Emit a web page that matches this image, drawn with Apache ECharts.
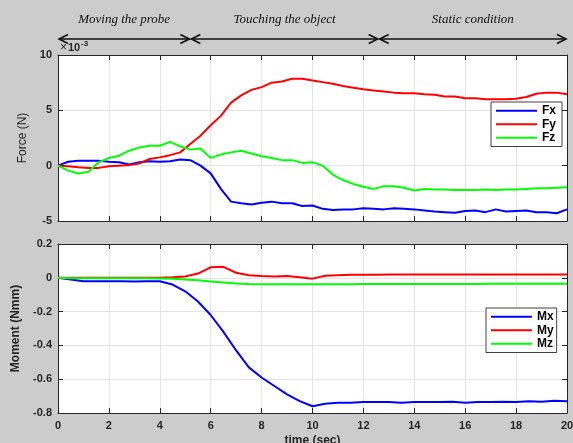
<!DOCTYPE html>
<html><head><meta charset="utf-8">
<script src="https://cdn.jsdelivr.net/npm/echarts@6/dist/echarts.min.js"></script>
<style>html,body{margin:0;padding:0;background:#cccccc}#c{width:573px;height:443px}</style>
</head><body><div id="c"></div>
<script>
// ---- data ----
const forceTime = [0,0.4,0.8,1.2,1.6,2.0,2.4,2.8,3.2,3.6,4.0,4.4,4.8,5.2,5.6,6.0,6.4,6.8,7.2,7.6,8.0,8.4,8.8,9.2,9.6,10.0,10.4,10.8,11.2,11.6,12.0,12.4,12.8,13.2,13.6,14.0,14.4,14.8,15.2,15.6,16.0,16.4,16.8,17.2,17.6,18.0,18.4,18.8,19.2,19.6,20.0];
const Fx = [0,0.35,0.45,0.45,0.45,0.35,0.3,0.1,0.3,0.4,0.35,0.4,0.55,0.5,0.0,-0.7,-2.1,-3.25,-3.4,-3.5,-3.35,-3.25,-3.4,-3.4,-3.65,-3.6,-3.9,-4.0,-3.95,-3.95,-3.85,-3.9,-3.95,-3.85,-3.9,-3.95,-4.05,-4.15,-4.2,-4.25,-4.1,-4.05,-4.2,-3.95,-4.15,-4.1,-4.05,-4.2,-4.2,-4.3,-3.95];
const Fy = [0,-0.05,-0.15,-0.2,-0.2,-0.05,0.0,0.05,0.2,0.6,0.75,0.95,1.2,1.95,2.7,3.65,4.5,5.7,6.35,6.85,7.1,7.5,7.6,7.85,7.85,7.7,7.55,7.4,7.2,7.05,6.9,6.8,6.7,6.6,6.55,6.55,6.45,6.4,6.25,6.25,6.1,6.1,6.0,6.0,6.0,6.05,6.2,6.5,6.6,6.6,6.45];
const Fz = [0,-0.45,-0.7,-0.55,0.3,0.7,0.9,1.35,1.65,1.8,1.8,2.15,1.75,1.45,1.55,0.7,1.0,1.2,1.35,1.1,0.85,0.7,0.5,0.5,0.25,0.3,0.0,-0.8,-1.3,-1.65,-1.9,-2.1,-1.85,-1.85,-2.0,-2.25,-2.1,-2.15,-2.15,-2.2,-2.2,-2.2,-2.15,-2.2,-2.15,-2.15,-2.1,-2.05,-2.05,-2.0,-1.95];

const momentTime = [0,0.5,1,1.5,2,2.5,3,3.5,4,4.5,5,5.5,6,6.5,7,7.5,8,8.5,9,9.5,10,10.5,11,11.5,12,12.5,13,13.5,14,14.5,15,15.5,16,16.5,17,17.5,18,18.5,19,19.5,20];
const Mx = [0,-0.01,-0.02,-0.02,-0.02,-0.02,-0.022,-0.02,-0.02,-0.04,-0.08,-0.14,-0.22,-0.32,-0.43,-0.53,-0.59,-0.64,-0.69,-0.73,-0.76,-0.745,-0.74,-0.74,-0.735,-0.735,-0.735,-0.74,-0.735,-0.735,-0.735,-0.733,-0.74,-0.735,-0.735,-0.733,-0.735,-0.73,-0.733,-0.728,-0.73];
const My = [0,0,0,0,0,0,0,0,0,0.003,0.008,0.025,0.062,0.065,0.03,0.015,0.01,0.008,0.01,0.003,-0.005,0.012,0.015,0.018,0.018,0.018,0.02,0.019,0.02,0.02,0.019,0.02,0.02,0.02,0.02,0.019,0.02,0.02,0.02,0.02,0.02];
const Mz = [0,-0.002,-0.002,-0.002,-0.002,-0.002,-0.002,-0.003,-0.004,-0.006,-0.01,-0.015,-0.022,-0.028,-0.034,-0.037,-0.038,-0.038,-0.038,-0.038,-0.038,-0.038,-0.038,-0.038,-0.037,-0.037,-0.037,-0.037,-0.036,-0.036,-0.036,-0.036,-0.036,-0.036,-0.035,-0.035,-0.035,-0.035,-0.035,-0.035,-0.035];

const timeTicks = [0,20,2];          // min, max, interval
const forceTicks = [-5,10,5];
const momentTicks = [-0.8,0.2,0.2];
const phaseBounds = [0,5.2,12.6,20];
const phaseLabels = ['Moving the probe','Touching the object','Static condition'];
const forceScaleBase = '10';
const forceScaleExp = '-3';

// ---- chart ----
const FONT = '"Liberation Sans", Arial, sans-serif';
const C = '#262626';
const chart = echarts.init(document.getElementById('c'));

function pairs(t, v){ return t.map((x,i)=>[x, v[i]]); }

function xAxis(grid, pos, showLabel, name){
  return {
    type:'value', gridIndex:grid, position:pos,
    min:timeTicks[0], max:timeTicks[1], interval:timeTicks[2],
    axisLine:{show:true, onZero:false, lineStyle:{color:C,width:1}},
    axisTick:{show:true, inside:true, length:5, lineStyle:{color:C}},
    axisLabel:{show:showLabel, color:C, fontFamily:FONT, fontWeight:'bold', fontSize:11, margin:7},
    splitLine:{show:pos==='bottom', lineStyle:{color:'#e3e3e3',width:1}},
    name:name||'', nameLocation:'middle', nameGap:22,
    nameTextStyle:{color:C, fontFamily:FONT, fontWeight:'bold', fontSize:12, verticalAlign:'top'}
  };
}
function yAxis(grid, pos, ticks, showLabel, name, gap, bold, fmt){
  return {
    type:'value', gridIndex:grid, position:pos,
    min:ticks[0], max:ticks[1], interval:ticks[2],
    axisLine:{show:true, onZero:false, lineStyle:{color:C,width:1}},
    axisTick:{show:true, inside:true, length:5, lineStyle:{color:C}},
    axisLabel:{show:showLabel, color:C, fontFamily:FONT, fontWeight:'bold', fontSize:11, margin:6, formatter:fmt},
    splitLine:{show:pos==='left', lineStyle:{color:'#e3e3e3',width:1}},
    name:name||'', nameLocation:'middle', nameGap:gap||0,
    nameTextStyle:{color:C, fontFamily:FONT, fontWeight:bold?'bold':'normal', fontSize:12}
  };
}
const mfmt = v => { const s = v.toFixed(1); return (s==='0.0'||s==='-0.0') ? '0' : s; };
const ffmt = v => String(Math.round(v));

function line(name, x, y, data, color){
  return {name, type:'line', xAxisIndex:x, yAxisIndex:y, data, showSymbol:false, symbol:'none',
    lineStyle:{color, width:2}, itemStyle:{color}, animation:false};
}

const legendCommon = {
  orient:'vertical', icon:'rect', itemWidth:41, itemHeight:2, itemGap:0,
  backgroundColor:'#ffffff', borderColor:'#404040', borderWidth:1, borderRadius:0,
  padding:[2,6,2,5], textStyle:{color:'#000', fontFamily:FONT, fontWeight:'bold', fontSize:12, lineHeight:13.5},
  selectedMode:false
};

chart.setOption({
  backgroundColor:'#cccccc',
  animation:false,
  grid:[
    {left:58, top:55, width:509, height:166, show:true, backgroundColor:'#ffffff', borderWidth:0, containLabel:false, outerBoundsMode:'none'},
    {left:58, top:244, width:509, height:169, show:true, backgroundColor:'#ffffff', borderWidth:0, containLabel:false, outerBoundsMode:'none'}
  ],
  xAxis:[ xAxis(0,'bottom',false), xAxis(0,'top',false), xAxis(1,'bottom',true,'time (sec)'), xAxis(1,'top',false) ],
  yAxis:[ yAxis(0,'left',forceTicks,true,'Force (N)',24,false,ffmt), yAxis(0,'right',forceTicks,false),
          yAxis(1,'left',momentTicks,true,'Moment (Nmm)',30,true,mfmt), yAxis(1,'right',momentTicks,false) ],
  legend:[
    Object.assign({}, legendCommon, {data:['Fx','Fy','Fz'], left:491, top:102}),
    Object.assign({}, legendCommon, {data:['Mx','My','Mz'], left:486, top:308, padding:[2,3,2,5]})
  ],
  series:[
    line('Fx',0,0,pairs(forceTime,Fx),'#0000ff'),
    line('Fy',0,0,pairs(forceTime,Fy),'#ff0000'),
    line('Fz',0,0,pairs(forceTime,Fz),'#00ff00'),
    line('Mx',2,2,pairs(momentTime,Mx),'#0000ff'),
    line('My',2,2,pairs(momentTime,My),'#ff0000'),
    line('Mz',2,2,pairs(momentTime,Mz),'#00ff00')
  ]
});

// annotations: phase arrows above top plot
const px = t => chart.convertToPixel({xAxisIndex:0}, t);
const arrowY = 39, textY = 20, head = 9, hh = 4.5;
const g = [];
for (let i=0;i<phaseLabels.length;i++){
  const x1 = px(phaseBounds[i]) + 1, x2 = px(phaseBounds[i+1]) - 1;
  const st = {stroke:'#111', lineWidth:1.6, fill:null};
  g.push({type:'line', shape:{x1, y1:arrowY, x2, y2:arrowY}, style:st, silent:true});
  g.push({type:'polyline', shape:{points:[[x1+head,arrowY-hh],[x1,arrowY],[x1+head,arrowY+hh]]}, style:st, silent:true});
  g.push({type:'polyline', shape:{points:[[x2-head,arrowY-hh],[x2,arrowY],[x2-head,arrowY+hh]]}, style:st, silent:true});
  g.push({type:'text', x:(x1+x2)/2, y:textY, style:{text:phaseLabels[i], fill:'#111', font:'italic 13px "Liberation Serif", "Times New Roman", serif', align:'center', verticalAlign:'middle'}, silent:true});
}
const x0 = px(0) + 2;
g.push({type:'text', x:x0, y:48, style:{text:'×', fill:C, font:'12px '+FONT, verticalAlign:'middle'}, silent:true});
g.push({type:'text', x:x0+8, y:48, style:{text:forceScaleBase, fill:C, font:'bold 11px '+FONT, verticalAlign:'middle'}, silent:true});
g.push({type:'text', x:x0+21, y:44, style:{text:forceScaleExp, fill:C, font:'bold 8px '+FONT, verticalAlign:'middle'}, silent:true});
chart.setOption({graphic:g});
</script></body></html>
